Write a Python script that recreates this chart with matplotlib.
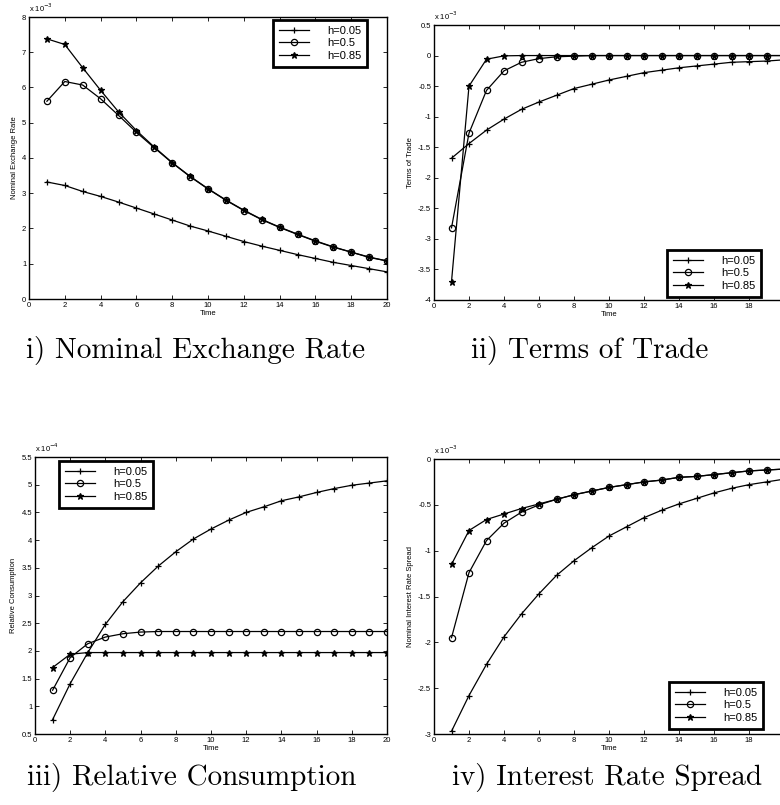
import numpy as np
import matplotlib
matplotlib.use("Agg")
import matplotlib.pyplot as plt
from matplotlib.ticker import FormatStrFormatter

plt.rcParams['font.family'] = ['Liberation Sans', 'DejaVu Sans']
plt.rcParams['axes.unicode_minus'] = False

time = np.arange(1, 21)
labels = ["h=0.05", "h=0.5", "h=0.85"]

# nominal exchange rate (x 10^-3)
ner_005 = [3.32, 3.22, 3.05, 2.91, 2.75, 2.58, 2.41, 2.24, 2.07, 1.93,
           1.78, 1.63, 1.50, 1.38, 1.26, 1.15, 1.04, 0.95, 0.86, 0.77]
ner_05 = [5.61, 6.17, 6.07, 5.68, 5.21, 4.73, 4.29, 3.86, 3.47, 3.12,
          2.80, 2.51, 2.25, 2.03, 1.83, 1.64, 1.47, 1.33, 1.18, 1.08]
ner_085 = [7.38, 7.22, 6.56, 5.92, 5.31, 4.78, 4.31, 3.87, 3.48, 3.13,
           2.81, 2.52, 2.26, 2.04, 1.84, 1.65, 1.48, 1.33, 1.19, 1.08]

# terms of trade (x 10^-3)
tot_005 = [-1.68, -1.44, -1.22, -1.04, -0.88, -0.76, -0.65, -0.54, -0.47, -0.40,
           -0.34, -0.28, -0.24, -0.20, -0.17, -0.14, -0.11, -0.10, -0.09, -0.07]
tot_05 = [-2.82, -1.27, -0.57, -0.25, -0.11, -0.05, -0.02, -0.01, 0.0, 0.0,
          0.0, 0.0, 0.0, 0.0, 0.0, 0.0, 0.0, 0.0, 0.0, 0.0]
tot_085 = [-3.70, -0.50, -0.06, -0.005, 0.0, 0.0, 0.0, 0.0, 0.0, 0.0,
           0.0, 0.0, 0.0, 0.0, 0.0, 0.0, 0.0, 0.0, 0.0, 0.0]

# relative consumption (x 10^-4)
rc_005 = [0.76, 1.41, 1.97, 2.48, 2.89, 3.23, 3.53, 3.79, 4.02, 4.20,
          4.36, 4.50, 4.60, 4.71, 4.78, 4.86, 4.93, 4.99, 5.03, 5.07]
rc_05 = [1.29, 1.88, 2.13, 2.25, 2.31, 2.34, 2.35, 2.35, 2.35, 2.35,
         2.35, 2.35, 2.35, 2.35, 2.35, 2.35, 2.35, 2.35, 2.35, 2.35]
rc_085 = [1.70, 1.94, 1.97, 1.97, 1.97, 1.97, 1.97, 1.97, 1.97, 1.97,
          1.97, 1.97, 1.97, 1.97, 1.97, 1.97, 1.97, 1.97, 1.97, 1.97]

# nominal interest rate spread (x 10^-3)
irs_005 = [-2.97, -2.58, -2.24, -1.94, -1.69, -1.47, -1.27, -1.11, -0.97, -0.84,
           -0.74, -0.64, -0.56, -0.49, -0.43, -0.37, -0.32, -0.28, -0.25, -0.22]
irs_05 = [-1.95, -1.24, -0.89, -0.70, -0.58, -0.50, -0.44, -0.39, -0.35, -0.31,
          -0.28, -0.25, -0.23, -0.20, -0.19, -0.17, -0.15, -0.13, -0.12, -0.11]
irs_085 = [-1.15, -0.78, -0.66, -0.60, -0.54, -0.49, -0.44, -0.39, -0.35, -0.31,
           -0.28, -0.25, -0.23, -0.20, -0.19, -0.17, -0.15, -0.13, -0.12, -0.11]

W, H = 780, 805
fig = plt.figure(figsize=(W / 100, H / 100), dpi=100)


def box(left, top, right, bottom):
    return [left / W, 1 - bottom / H, (right - left) / W, (bottom - top) / H]


def panel(rect, series, ylim, ystep, ylabel, scale, legend_anchor):
    ax = fig.add_axes(rect)
    for vals, mk, ms, lab in zip(series, ['+', 'o', '*'], [5, 4.5, 5], labels):
        ax.plot(time, vals, color='black', lw=0.9, marker=mk, ms=ms,
                mfc='none' if mk == 'o' else 'black', mec='black', mew=0.9,
                label=lab)
    ax.set_xlim(0, 20)
    ax.set_ylim(*ylim)
    ax.set_xticks(np.arange(0, 21, 2))
    ax.set_yticks(np.arange(ylim[0], ylim[1] + 1e-9, ystep))
    ax.yaxis.set_major_formatter(FormatStrFormatter('%g'))
    ax.tick_params(direction='in', top=True, right=True, length=3,
                   width=0.6, labelsize=5.5, pad=2)
    for s in ax.spines.values():
        s.set_linewidth(1.0)
    ax.set_xlabel("Time", fontsize=5.5, labelpad=1)
    ax.set_ylabel(ylabel, fontsize=5.5, labelpad=3)
    ax.text(0, 1.012, "x 10$^{%d}$" % scale, transform=ax.transAxes,
            fontsize=5.5, va='bottom', ha='left')
    # framed legend, MATLAB style: short line + marker, labels pushed right
    leg = ax.legend(loc='upper left', bbox_to_anchor=legend_anchor,
                    bbox_transform=fig.transFigure, fontsize=8, numpoints=1,
                    handlelength=2.7, handletextpad=1.6, borderpad=0.55,
                    labelspacing=0.2, fancybox=False, framealpha=1,
                    edgecolor='black', borderaxespad=0)
    leg.get_frame().set_linewidth(2.0)
    return ax


panel(box(29, 17, 387, 299), [ner_005, ner_05, ner_085], (0, 8), 1,
      "Nominal Exchange Rate", -3, (273 / W, 1 - 20 / H))
panel(box(434, 25, 784, 300), [tot_005, tot_05, tot_085], (-4, 0.5), 0.5,
      "Terms of Trade", -3, (667 / W, 1 - 250 / H))
panel(box(35, 457, 387, 734), [rc_005, rc_05, rc_085], (0.5, 5.5), 0.5,
      "Relative Consumption", -4, (59 / W, 1 - 461 / H))
panel(box(434, 459, 784, 734), [irs_005, irs_05, irs_085], (-3, 0), 0.5,
      "Nominal Interest Rate Spread", -3, (669 / W, 1 - 682 / H))

captions = [("i) Nominal Exchange Rate", 196, 358),
            ("ii) Terms of Trade", 590, 358),
            ("iii) Relative Consumption", 192, 785),
            ("iv) Interest Rate Spread", 607, 785)]
for txt, cx, cy in captions:
    fig.text(cx / W, 1 - cy / H, txt, fontfamily='cmr10', fontsize=21,
             ha='center', va='baseline')

fig.savefig("out.png", dpi=100)
